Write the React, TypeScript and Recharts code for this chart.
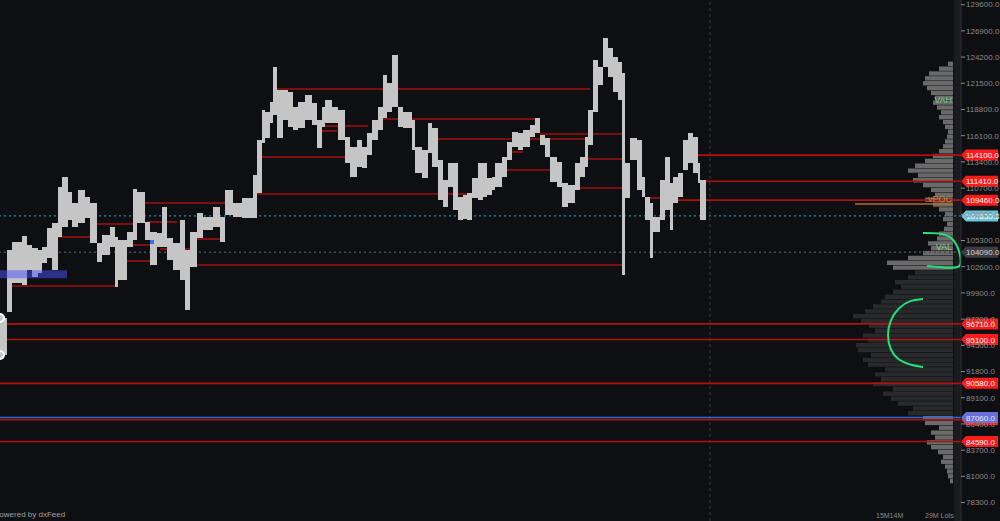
import React from "react";
import {
  ComposedChart,
  Area,
  Bar,
  Cell,
  Line,
  XAxis,
  YAxis,
  ReferenceLine,
  ReferenceArea,
} from "recharts";

// time index of each bar (start), high and low of each bar
const times = [
  0, 7, 12, 22, 27, 32, 38, 42, 47, 52, 58, 62, 68, 72, 78, 85, 90, 97, 102, 110,
  115, 118, 127, 133, 137, 145, 150, 157, 162, 167, 173, 180, 185, 190, 197, 203,
  213, 220, 225, 233, 242, 253, 257, 262, 265, 270, 273, 277, 283, 288, 293, 298,
  305, 312, 317, 322, 325, 332, 338, 345, 350, 357, 362, 367, 372, 378, 383, 387,
  392, 398, 403, 412, 415, 422, 428, 432, 438, 443, 448, 453, 458, 463, 467, 472,
  478, 483, 487, 492, 495, 502, 507, 512, 518, 523, 530, 535, 540, 545, 550, 557,
  562, 568, 575, 580, 585, 588, 593, 598, 603, 608, 613, 618, 622, 625, 630, 637,
  642, 645, 650, 653, 660, 665, 670, 673, 678, 683, 688, 693, 698, 700, 706,
];
const highs = [
  97310, 104320, 105150, 105760, 104840, 104530, 104320, 104630, 106590, 107100,
  110810, 111850, 110300, 109170, 110510, 109780, 109170, 105040, 105870, 106690,
  105660, 105350, 106180, 110610, 110300, 107210, 106180, 106070, 108750, 105560,
  105040, 107410, 104320, 106180, 108130, 107720, 108750, 107720, 110510, 109170,
  109680, 112050, 115660, 118750, 118540, 119570, 123180, 120810, 120810, 120600,
  119060, 119570, 120290, 119470, 117720, 119060, 119780, 119060, 118750, 115970,
  114940, 115660, 114940, 116380, 117720, 119060, 122360, 121530, 124420, 119060,
  118540, 117720, 114940, 114630, 117410, 116890, 113600, 111540, 113290, 113290,
  109780, 109990, 110200, 111740, 113290, 113290, 111740, 111850, 113290, 113910,
  115450, 116480, 116380, 116690, 117200, 117920, 116170, 115860, 113910, 113390,
  111230, 111020, 113290, 113910, 115970, 118750, 123900, 123180, 126170, 125140,
  124210, 123690, 122560, 113290, 115860, 115660, 111850, 109780, 109170, 107720,
  111540, 113910, 111230, 111850, 112260, 115660, 116380, 115970, 113290, 111540,
  111540,
];
const lows = [
  93500, 97930, 100920, 100710, 102260, 101540, 101950, 102980, 103500, 102260,
  105660, 106690, 107410, 106690, 107100, 107620, 105040, 103090, 103810, 104630,
  100510, 101230, 104630, 105350, 107100, 105350, 102780, 104630, 104630, 103290,
  102260, 101230, 98140, 102570, 105560, 106380, 106690, 105150, 107930, 107720,
  107620, 107620, 110200, 115350, 115860, 117410, 118230, 115860, 117720, 117000,
  116690, 116890, 117720, 117200, 114830, 117000, 117410, 117410, 115660, 113290,
  111850, 112880, 112770, 114110, 115660, 116690, 117920, 118540, 119060, 117000,
  116890, 114630, 112260, 111740, 114320, 112880, 109470, 108750, 110810, 108440,
  107410, 107520, 107410, 109680, 109470, 109780, 109990, 110510, 110810, 111850,
  113600, 114940, 114630, 114940, 115970, 116380, 115140, 113910, 111330, 110810,
  108750, 109170, 110510, 111850, 112880, 115140, 118540, 121330, 123180, 122150,
  120600, 119780, 101750, 109680, 113600, 110510, 109780, 107410, 103500, 106180,
  107410, 108440, 106380, 109170, 109780, 112570, 113290, 112260, 111230, 107410,
  107410,
];

// naked POC levels (price, first and last time index)
const nakedPrices = [
  120910, 117820, 117100, 116590, 116280, 115760, 113910, 114420, 112570, 113700,
  110710, 110090, 109680, 109170, 107210, 107000, 105660, 105450, 104840, 104420,
  103190, 102780, 100610,
];
const nakedStart = [
  275, 383, 320, 317, 540, 435, 258, 508, 503, 587, 563, 257, 645, 143, 147, 90,
  57, 193, 130, 160, 125, 192, 7,
];
const nakedEnd = [
  590, 535, 368, 337, 622, 588, 345, 523, 550, 622, 622, 477, 662, 227, 177, 133,
  90, 222, 150, 190, 150, 622, 118,
];

// levels that reach the price scale
const flagPrices = [114100, 111410, 109460, 96710, 95100, 90580, 86830, 84590];
const flagStart = [695, 698, 673, 0, 0, 0, 0, 0];
const blueLevel = 87060;
const lastPrice = 107830.3;
const valLevel = 104090;
const vahLevel = 119260;
const vpocLevel = 109060;

const priceTicks = [
  129600, 126900, 124200, 121500, 118800, 116100, 113400, 110700, 108000, 105300,
  102600, 99900, 97200, 94500, 91800, 89100, 86400, 83700, 81000, 78300,
];

// volume profile (price level, volume in M lots)
const profilePrices = [
  126000, 125500, 125000, 124500, 124000, 123500, 123000, 122500, 122000, 121500,
  121000, 120500, 120000, 119500, 119000, 118500, 118000, 117500, 117000, 116500,
  116000, 115500, 115000, 114500, 114000, 113500, 113000, 112500, 112000, 111500,
  111000, 110500, 110000, 109500, 109000, 108500, 108000, 107500, 107000, 106500,
  106000, 105500, 105000, 104500, 104000, 103500, 103000, 102500, 102000, 101500,
  101000, 100500, 100000, 99500, 99000, 98500, 98000, 97500, 97000, 96500,
  96000, 95500, 95000, 94500, 94000, 93500, 93000, 92500, 92000, 91500,
  91000, 90500, 90000, 89500, 89000, 88500, 88000, 87500, 87000, 86500,
  86000, 85500, 85000, 84500, 84000, 83500, 83000,
];
const profileVolumes = [
  0.9, 1.5, 1.8, 2.4, 3.6, 3.0, 4.5, 6.6, 7.8, 5.4,
  6.6, 4.2, 8.4, 9.0, 13.5, 12.0, 16.5, 18.6, 21.0, 18.0,
  24.0, 21.6, 23.4, 20.4, 25.5, 27.0, 24.6, 28.5, 29.1, 25.5,
  27.0, 23.4, 25.2, 27.6, 30.0, 26.4, 24.0, 21.6, 20.4, 18.0,
  15.6, 17.4, 13.5, 11.4, 18.0, 19.8, 13.5, 9.0, 6.6, 7.5,
  4.8, 4.2, 2.7, 1.8, 3.0, 2.4, 4.2, 6.0, 8.4, 5.4,
  6.6, 9.0, 12.0, 10.5, 13.5, 11.4, 8.4, 6.0, 4.2, 3.0,
  2.4, 1.8, 1.5, 2.4, 3.0, 4.2, 3.6, 4.8, 6.0, 5.4,
  6.6, 7.8, 9.0, 8.4, 7.2, 4.2, 1.5,
];

// hand drawn green marks (time index, price)
const markATimes = [923, 940, 950, 956, 960, 961, 960, 945, 927];
const markAPrices = [106070, 106070, 105760, 105040, 104010, 103090, 102470, 102470, 102670];
const markBTimes = [923, 910, 898, 890, 887, 890, 898, 910, 923];
const markBPrices = [99270, 99170, 98340, 97110, 95560, 94010, 92980, 92470, 92260];

// each bar holds its range until the next bar starts
const bars = times.slice(0, -1).flatMap((t, i) => [
  { t, range: [lows[i], highs[i]] },
  { t: times[i + 1], range: [lows[i], highs[i]] },
]);
const profile = profilePrices.map((price, i) => ({ price, vol: profileVolumes[i] }));
const markA = markATimes.map((t, i) => ({ t, p: markAPrices[i] }));
const markB = markBTimes.map((t, i) => ({ t, p: markBPrices[i] }));

const DOMAIN: [number, number] = [76400, 130080];
const X_END = 961;
const AXIS_W = 39;

const fmt = (v: number) => v.toFixed(1);

function flagLabel(text: string, bg: string, fg: string) {
  return (props: any) => {
    const { viewBox } = props;
    const x = viewBox.x + viewBox.width;
    const y = viewBox.y;
    return (
      <g>
        <path
          d={`M${x} ${y} L${x + 5} ${y - 5.5} H${x + 37} V${y + 5.5} H${x + 5} Z`}
          fill={bg}
        />
        <text x={x + 5} y={y + 3} fontSize={8} fill={fg}>
          {text}
        </text>
      </g>
    );
  };
}

function sideText(text: string, color: string) {
  return (props: any) => {
    const { viewBox } = props;
    return (
      <text
        x={viewBox.x + viewBox.width - 1}
        y={viewBox.y - 2}
        textAnchor="end"
        fontSize={9}
        fill={color}
      >
        {text}
      </text>
    );
  };
}

const layer: React.CSSProperties = { position: "absolute", left: 0, top: 0 };

export default function App() {
  return (
    <div
      style={{
        position: "absolute",
        left: 0,
        top: 0,
        width: 1000,
        height: 521,
        background: "#0e0f12",
        overflow: "hidden",
        fontFamily: "'Liberation Sans', Arial, sans-serif",
      }}
    >
      {/* volume profile */}
      <div style={{ ...layer, left: 853 }}>
        <ComposedChart
          width={100}
          height={521}
          layout="vertical"
          data={profile}
          margin={{ top: 0, right: 0, bottom: 0, left: 0 }}
        >
          <XAxis type="number" hide domain={[0, 30]} reversed allowDataOverflow />
          <YAxis type="number" dataKey="price" hide domain={DOMAIN} allowDataOverflow />
          <Bar dataKey="vol" barSize={5} isAnimationActive={false}>
            {profile.map((row) => (
              <Cell
                key={row.price}
                fill={row.price > valLevel && row.price < vahLevel ? "#28292b" : "#6a6a6a"}
              />
            ))}
          </Bar>
        </ComposedChart>
      </div>

      {/* levels, price scale, marks */}
      <div style={layer}>
        <ComposedChart
          width={1000}
          height={521}
          data={bars}
          margin={{ top: 0, right: 0, bottom: 0, left: 0 }}
        >
          <XAxis type="number" dataKey="t" hide domain={[0, X_END]} allowDataOverflow />
          <YAxis
            orientation="right"
            width={AXIS_W}
            domain={DOMAIN}
            allowDataOverflow
            ticks={priceTicks}
            tickFormatter={fmt}
            interval={0}
            axisLine={{ stroke: "#2e2f33" }}
            tickLine={{ stroke: "#8a8a8a" }}
            tickSize={4}
            tickMargin={1}
            tick={{ fill: "#8a8a8a", fontSize: 8 }}
          />
          <ReferenceArea x1={954} x2={X_END} y1={DOMAIN[0]} y2={DOMAIN[1]} fill="#1a1b1e" fillOpacity={1} />
          <ReferenceLine
            segment={[{ x: 710, y: DOMAIN[0] }, { x: 710, y: DOMAIN[1] }]}
            stroke="#3a3b3f"
            strokeDasharray="3 3"
          />
          {nakedPrices.map((p, i) => (
            <ReferenceLine
              key={"n" + i}
              segment={[{ x: nakedStart[i], y: p }, { x: nakedEnd[i], y: p }]}
              stroke="#a01010"
              strokeWidth={1.6}
            />
          ))}
          <ReferenceLine
            y={lastPrice}
            stroke="#2f8c9c"
            strokeWidth={1.3}
            strokeDasharray="2 3"
            label={flagLabel("107830.3", "#6cc3d6", "#ffffff")}
          />
          <ReferenceLine
            y={valLevel}
            stroke="#4a4b4f"
            strokeWidth={1.3}
            strokeDasharray="2 3"
            label={flagLabel("104090.0", "#3b3d42", "#d8d8d8")}
          />
          {flagPrices.map((p, i) => (
            <ReferenceLine
              key={"f" + i}
              segment={[{ x: flagStart[i], y: p }, { x: X_END, y: p }]}
              stroke="#b01010"
              strokeWidth={1.6}
              label={flagLabel(fmt(p), "#ff1a1a", "#ffffff")}
            />
          ))}
          <ReferenceLine
            segment={[{ x: 0, y: blueLevel }, { x: X_END, y: blueLevel }]}
            stroke="#2e6bd0"
            strokeWidth={1.6}
            label={flagLabel(fmt(blueLevel), "#6670d6", "#e6e6ff")}
          />
          <ReferenceLine
            segment={[{ x: 855, y: vpocLevel }, { x: 953, y: vpocLevel }]}
            stroke="#b86e2a"
            strokeWidth={1.5}
            label={sideText("vPOC", "#c7812f")}
          />
          <ReferenceLine
            segment={[{ x: 900, y: vahLevel }, { x: 953, y: vahLevel }]}
            strokeOpacity={0}
            label={sideText("VAH", "#7fcf7f")}
          />
          <ReferenceLine
            segment={[{ x: 900, y: valLevel }, { x: 953, y: valLevel }]}
            strokeOpacity={0}
            label={sideText("VAL", "#7fcf7f")}
          />
          <Line
            data={markA}
            dataKey="p"
            type="basis"
            stroke="#22e07a"
            strokeWidth={2}
            dot={false}
            activeDot={false}
            isAnimationActive={false}
          />
          <Line
            data={markB}
            dataKey="p"
            type="basis"
            stroke="#22e07a"
            strokeWidth={2}
            dot={false}
            activeDot={false}
            isAnimationActive={false}
          />
        </ComposedChart>
      </div>

      {/* price bars drawn over the level lines */}
      <div style={layer}>
        <ComposedChart
          width={1000}
          height={521}
          data={bars}
          margin={{ top: 0, right: AXIS_W, bottom: 0, left: 0 }}
        >
          <XAxis type="number" dataKey="t" hide domain={[0, X_END]} allowDataOverflow />
          <YAxis hide domain={DOMAIN} allowDataOverflow />
          <Area
            dataKey="range"
            type="linear"
            stroke="none"
            fill="#c5c5c5"
            fillOpacity={1}
            isAnimationActive={false}
          />
          <ReferenceArea x1={0} x2={67} y1={101420} y2={102240} fill="#4b50ff" fillOpacity={0.5} />
          <ReferenceArea x1={150} x2={154} y1={104940} y2={105350} fill="#3a6cff" fillOpacity={1} />
        </ComposedChart>
      </div>

      <div style={{ position: "absolute", left: -6, top: 510, fontSize: 8, color: "#a0a0a0" }}>
        Powered by dxFeed
      </div>
      <div style={{ position: "absolute", left: 876, top: 512, fontSize: 7, color: "#8a8a8a" }}>
        15M14M
      </div>
      <div style={{ position: "absolute", left: 925, top: 512, fontSize: 7, color: "#8a8a8a" }}>
        29M Lots
      </div>
    </div>
  );
}
